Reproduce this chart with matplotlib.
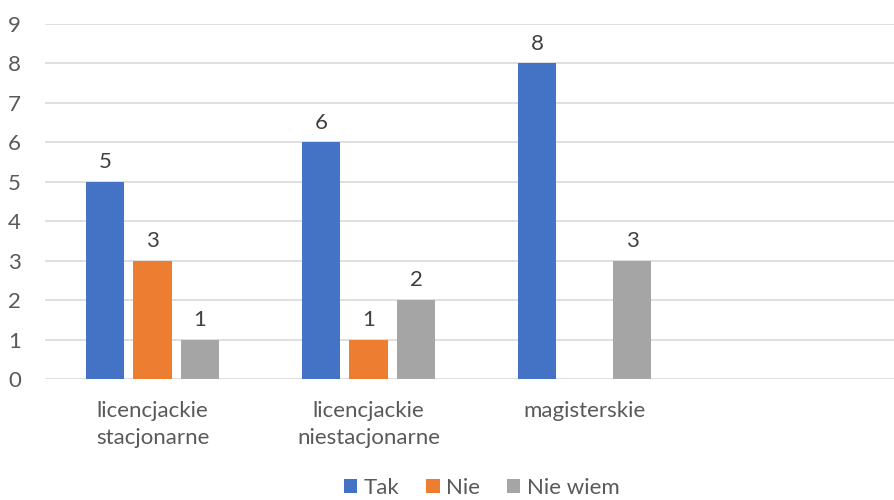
import numpy as np
from matplotlib import pyplot as plt

plt.rcParams['font.family'] = ['Lato', 'DejaVu Sans']

categories = ['licencjackie\nstacjonarne', 'licencjackie\nniestacjonarne', 'magisterskie']
series = ['Tak', 'Nie', 'Nie wiem']
tak = [5, 6, 8]
nie = [3, 1, 0]
nie_wiem = [1, 2, 3]
colors = ['#4472C4', '#ED7D31', '#A5A5A5']
text_col = '#595959'

fig = plt.figure(figsize=(8.95, 5.0), dpi=100)
# plot area: x from 44.5 px, y0 at 379 px, y9 at 24 px (runs past the right edge)
ax = fig.add_axes([44.5 / 895, 121 / 500, (895 - 44.5) / 895, 355 / 500])

x = np.arange(len(categories))
step = 0.22
width = 0.176
for i, (name, vals, col) in enumerate(zip(series, [tak, nie, nie_wiem], colors)):
    pos = x + (i - 1) * step
    ax.bar(pos, vals, width, color=col, label=name, zorder=3)
    for p, v in zip(pos, vals):
        if v == 0:
            continue
        ax.annotate(str(v), (p, v), xytext=(0, 7), textcoords='offset points',
                    ha='center', va='bottom', fontsize=16, color='#404040')

ax.set_xlim(-0.5, -0.5 + 850.5 / 216)
ax.set_ylim(0, 9)
ax.set_yticks(range(0, 10))
ax.yaxis.grid(True, color='#D9D9D9', linewidth=1.2, zorder=0)
ax.set_xticks(x)
ax.set_xticklabels(categories, fontsize=16, color=text_col, linespacing=1.45)
ax.tick_params(axis='y', labelsize=16, labelcolor=text_col, length=0, pad=17)
ax.tick_params(axis='x', length=0, pad=16)
for s in ax.spines.values():
    s.set_visible(False)

fig.legend(loc='center', bbox_to_anchor=(482 / 895, 1 - 488 / 500), ncol=3,
           frameon=False, fontsize=16, labelcolor=text_col, handlelength=0.6,
           handleheight=0.6, handletextpad=0.3, columnspacing=1.2)

fig.savefig('out.png', dpi=100)
